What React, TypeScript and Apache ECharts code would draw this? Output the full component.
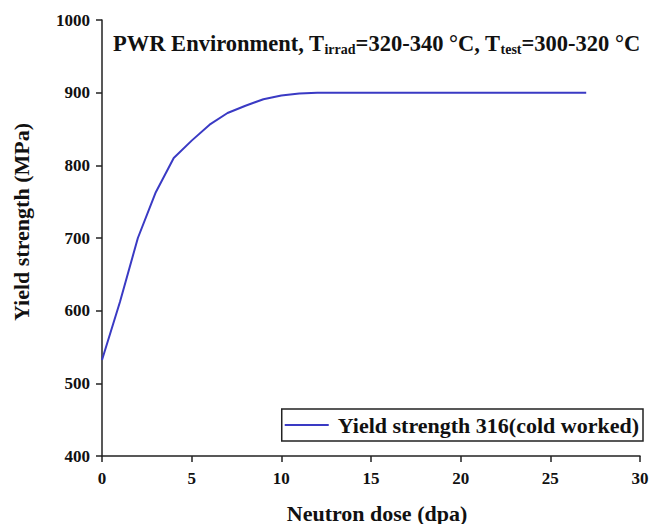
import React, { useEffect, useRef } from "react";
import * as echarts from "echarts";

const doseDpa = [0, 1, 2, 3, 4, 5, 6, 7, 8, 9, 10, 11, 12, 13, 14, 15, 16, 17, 18, 19, 20, 21, 22, 23, 24, 25, 26, 27];
const yieldStrength = [532, 612, 700, 763, 810, 834, 856, 872, 882, 891, 896, 899, 900, 900, 900, 900, 900, 900, 900, 900, 900, 900, 900, 900, 900, 900, 900, 900];
const seriesName = "Yield strength 316(cold worked)";
const xTicks = [0, 5, 10, 15, 20, 25, 30];
const yTicks = [400, 500, 600, 700, 800, 900, 1000];

const FONT = "'Liberation Serif', 'Times New Roman', serif";

export default function App() {
  const ref = useRef<HTMLDivElement>(null);
  useEffect(() => {
    if (!ref.current) return;
    const chart = echarts.init(ref.current, null, { renderer: "svg" });
    const axisCommon = {
      axisLine: { show: true, lineStyle: { color: "#222", width: 1.5 } },
      axisTick: { show: true, inside: false, length: 6, lineStyle: { color: "#222", width: 1.5 } },
      splitLine: { show: false },
      nameLocation: "middle" as const,
    };
    chart.setOption({
      animation: false,
      backgroundColor: "#fff",
      title: {
        left: 108,
        top: 25,
        text: "{a|PWR Environment, T}{s|irrad}{a|=320-340 °C, T}{s|test}{a|=300-320 °C}",
        textStyle: {
          rich: {
            a: { fontFamily: FONT, fontWeight: "bold", fontSize: 22.5, color: "#111" },
            s: { fontFamily: FONT, fontWeight: "bold", fontSize: 14, color: "#111", padding: [12, 0, 0, 0] },
          },
        },
      },
      legend: {
        right: 12,
        top: 409,
        data: [{ name: seriesName, icon: "rect" }],
        borderColor: "#222",
        borderWidth: 1.5,
        borderRadius: 0,
        padding: [5, 4, 5, 3],
        itemWidth: 44,
        itemHeight: 2,
        itemGap: 8,
        textStyle: { fontFamily: FONT, fontWeight: "bold", fontSize: 22, color: "#111", padding: [0, 0, 0, 4] },
      },
      grid: { left: 102, right: 15, top: 20, bottom: 68, containLabel: false, outerBoundsMode: "none" },
      xAxis: {
        ...axisCommon,
        type: "value",
        min: xTicks[0],
        max: xTicks[xTicks.length - 1],
        interval: 5,
        name: "Neutron dose (dpa)",
        nameGap: 46,
        nameTextStyle: { fontFamily: FONT, fontWeight: "bold", fontSize: 22, color: "#111", padding: [0, 0, 0, 12] },
        axisLabel: { fontFamily: FONT, fontWeight: "bold", fontSize: 17, color: "#111", margin: 14 },
      },
      yAxis: {
        ...axisCommon,
        type: "value",
        min: yTicks[0],
        max: yTicks[yTicks.length - 1],
        interval: 100,
        name: "Yield strength (MPa)",
        nameGap: 70,
        nameTextStyle: { fontFamily: FONT, fontWeight: "bold", fontSize: 22, color: "#111", padding: [0, 0, 0, 32] },
        axisLabel: {
          fontFamily: FONT,
          fontWeight: "bold",
          fontSize: 17,
          color: "#111",
          margin: 12,
          formatter: (v: number) => String(v),
        },
      },
      series: [
        {
          name: seriesName,
          type: "line",
          symbol: "none",
          smooth: false,
          data: doseDpa.map((d, i) => [d, yieldStrength[i]]),
          lineStyle: { color: "#3a3ac4", width: 2 },
          itemStyle: { color: "#3a3ac4" },
        },
      ],
    });
    return () => chart.dispose();
  }, []);
  return <div ref={ref} style={{ width: 655, height: 524, position: "absolute", left: 0, top: 0 }} />;
}
